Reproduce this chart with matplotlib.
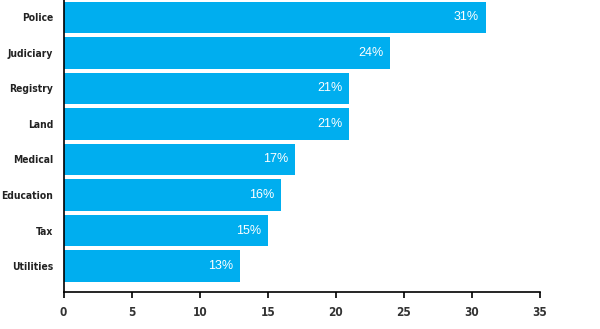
import matplotlib.pyplot as plt
from matplotlib import font_manager

categories = ["Police", "Judiciary", "Registry", "Land", "Medical",
              "Education", "Tax", "Utilities"]
values = [31, 24, 21, 21, 17, 16, 15, 13]
xticks = [0, 5, 10, 15, 20, 25, 30, 35]

# pick a narrow bold face if one is installed
narrow = None
for f in font_manager.fontManager.ttflist:
    if "Narrow" in f.name or (f.stretch in ("condensed", "semi-condensed")
                              and f.weight in ("bold", 700)):
        narrow = f
        break
if narrow is not None:
    lab_font = font_manager.FontProperties(fname=narrow.fname, size=7.4)
else:
    lab_font = font_manager.FontProperties(family="Liberation Sans",
                                           weight="bold", size=7)
plt.rcParams["font.family"] = ["Liberation Sans", "DejaVu Sans"]

fig = plt.figure(figsize=(6.0, 3.29), dpi=100)
ax = fig.add_axes([63.5 / 600, 37 / 329, (540 - 63.5) / 600, 292 / 329])

pos = list(range(len(categories)))
ax.barh(pos, values, height=0.88, color="#00AEEF")
for p, v in zip(pos, values):
    ax.text(v - 0.5, p, "%d%%" % v, color="white", fontsize=9,
            ha="right", va="center")

ax.set_xlim(0, 35)
ax.set_ylim(7.73, -0.49)
ax.set_xticks(xticks)
ax.set_yticks(pos)
ax.set_yticklabels(categories, color="#222222")
for lab in ax.get_yticklabels():
    lab.set_fontproperties(lab_font)
ax.tick_params(axis="y", length=0, pad=7.5)
ax.tick_params(axis="x", length=4, width=1.2, pad=6, labelcolor="#333333")
for lab in ax.get_xticklabels():
    lab.set_fontproperties(lab_font)
    lab.set_fontsize(8.5)
for s in ["top", "right"]:
    ax.spines[s].set_visible(False)
ax.spines["left"].set_linewidth(1.2)
ax.spines["bottom"].set_linewidth(1.2)

fig.savefig("out.png", dpi=100)
